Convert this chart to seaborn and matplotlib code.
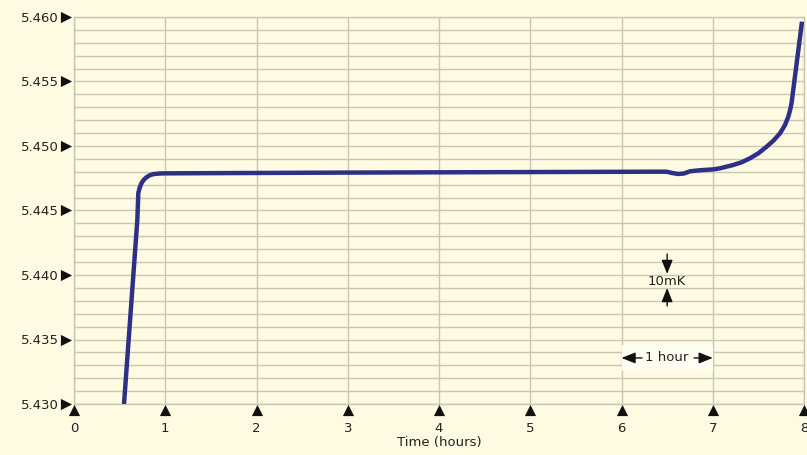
import numpy as np
import pandas as pd
import matplotlib
matplotlib.use("Agg")
import matplotlib.pyplot as plt
import seaborn as sns
from matplotlib.ticker import MultipleLocator

# ---- data ----
time_h = [0.548, 0.694, 0.705, 0.722, 0.742, 0.767, 0.797, 0.830, 0.869, 0.942, 1.0,
          2.0, 3.0, 4.0, 5.0, 6.0, 6.45, 6.50, 6.553, 6.622, 6.685, 6.751, 6.86,
          7.006, 7.079, 7.225, 7.317, 7.408, 7.499, 7.591, 7.664, 7.737, 7.792,
          7.828, 7.850, 7.865, 7.978]
temp_k = [5.4300, 5.44426, 5.44636, 5.44682, 5.44715, 5.44740, 5.44759, 5.44773, 5.44782,
          5.44787, 5.44788, 5.44791, 5.44794, 5.44796, 5.44798, 5.44800, 5.44801, 5.44800,
          5.44791, 5.44783, 5.44787, 5.44804, 5.44812, 5.44819, 5.44827, 5.44853,
          5.44874, 5.44905, 5.44943, 5.44995, 5.45041, 5.45098, 5.45163, 5.45227,
          5.45285, 5.45340, 5.45964]
x_ticks = [0, 1, 2, 3, 4, 5, 6, 7, 8]
y_ticks = [5.430, 5.435, 5.440, 5.445, 5.450, 5.455, 5.460]
y_tick_labels = ["5.430", "5.435", "5.440", "5.445", "5.450", "5.455", "5.460"]
x_label = "Time (hours)"

df = pd.DataFrame({"time": time_h, "temp": temp_k})

BG = "#FEFBE2"
GRID = "#C8C7B5"
LINE = "#2E2F86"
TXT = "#222222"

sns.set_style("white")
plt.rcParams['font.family'] = ['DejaVu Sans']

fig = plt.figure(figsize=(8.07, 4.55), dpi=100, facecolor=BG)
ax = fig.add_axes([74/807, 1-404/455, 730/807, 387/455])
ax.set_facecolor(BG)

sns.lineplot(data=df, x="time", y="temp", ax=ax, color=LINE, linewidth=3.2,
             solid_joinstyle="round", solid_capstyle="butt", zorder=5)

ax.set_xlim(0, 8)
ax.set_ylim(5.430, 5.460)
ax.set_xticks(x_ticks)
ax.set_xticklabels([str(t) for t in x_ticks], fontsize=9.5, color=TXT)
ax.set_yticks(y_ticks)
ax.set_yticklabels(y_tick_labels, fontsize=9.5, color=TXT)
ax.yaxis.set_minor_locator(MultipleLocator(0.001))
ax.tick_params(axis="both", which="both", length=0)
ax.tick_params(axis="y", pad=11)
ax.tick_params(axis="x", pad=13)
ax.grid(True, which="major", axis="x", color=GRID, linewidth=1.0)
ax.grid(True, which="both", axis="y", color=GRID, linewidth=1.0)
ax.set_axisbelow(True)
for s in ax.spines.values():
    s.set_color(GRID)
    s.set_linewidth(1.0)
ax.set_xlabel(x_label, fontsize=9.5, color=TXT, labelpad=1)
ax.set_ylabel("")

# triangle tick markers
ax.scatter(x_ticks, [-0.016] * len(x_ticks), marker="^", s=65, color="#111111",
           transform=ax.get_xaxis_transform(), clip_on=False, zorder=6, linewidths=0)
ax.scatter([-0.011] * len(y_ticks), y_ticks, marker=">", s=65, color="#111111",
           transform=ax.get_yaxis_transform(), clip_on=False, zorder=6, linewidths=0)

arrow_kw = dict(arrowstyle="-|>,head_length=0.6,head_width=0.24", color="#111111",
                lw=1, mutation_scale=14, shrinkA=0, shrinkB=0)

# 10mK annotation
ax.text(6.5, 5.43946, "10mK", ha="center", va="center", fontsize=9.5, color=TXT)
ax.annotate("", xy=(6.5, 5.44008), xytext=(6.5, 5.44163), arrowprops=arrow_kw)
ax.annotate("", xy=(6.5, 5.43899), xytext=(6.5, 5.43760), arrowprops=arrow_kw)

# 1 hour annotation
ax.add_patch(plt.Rectangle((6.0, 5.43256), 1.0, 0.00201, facecolor="#FFFEF3",
                           edgecolor="none", zorder=3))
ax.text(6.5, 5.43357, "1 hour", ha="center", va="center", fontsize=9.5,
        color=TXT, zorder=4)
ax.annotate("", xy=(6.0, 5.43357), xytext=(6.225, 5.43357), arrowprops=arrow_kw, zorder=4)
ax.annotate("", xy=(7.0, 5.43357), xytext=(6.795, 5.43357), arrowprops=arrow_kw, zorder=4)

fig.savefig("out.png", dpi=100, facecolor=BG)
